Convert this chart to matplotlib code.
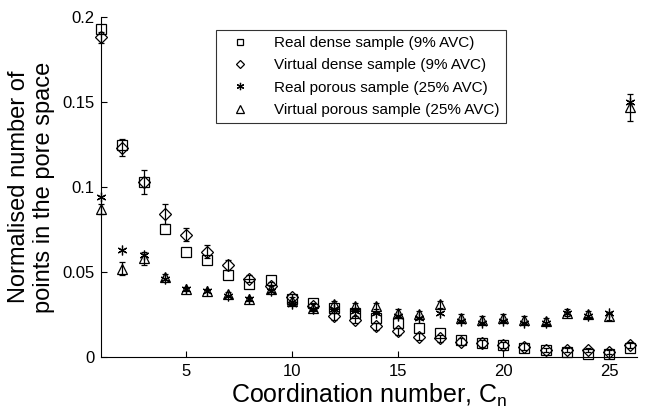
import numpy as np
import matplotlib
matplotlib.use("Agg")
import matplotlib.pyplot as plt

plt.rcParams['font.family'] = ['Liberation Sans', 'DejaVu Sans']

cn = np.arange(1, 27)

real_dense = [0.193, 0.125, 0.103, 0.075, 0.062, 0.057, 0.048, 0.043, 0.045, 0.034,
              0.032, 0.029, 0.026, 0.023, 0.020, 0.017, 0.014, 0.010, 0.008, 0.007,
              0.005, 0.004, 0.003, 0.002, 0.002, 0.005]
virt_dense = [0.188, 0.123, 0.103, 0.084, 0.072, 0.062, 0.054, 0.046, 0.042, 0.035,
              0.030, 0.024, 0.022, 0.018, 0.015, 0.012, 0.011, 0.009, 0.008, 0.007,
              0.006, 0.004, 0.004, 0.004, 0.003, 0.007]
virt_dense_err = [0.003, 0.005, 0.007, 0.006, 0.004, 0.004, 0.003, 0.002, 0.002, 0.002,
                  0.002, 0.002, 0.002, 0.002, 0.002, 0.002, 0.002, 0.002, 0.002, 0.002,
                  0.002, 0.001, 0.001, 0.001, 0.001, 0.002]
real_porous = [0.094, 0.063, 0.060, 0.046, 0.040, 0.039, 0.036, 0.034, 0.039, 0.031,
               0.028, 0.028, 0.027, 0.026, 0.024, 0.023, 0.026, 0.021, 0.020, 0.021,
               0.020, 0.020, 0.026, 0.024, 0.026, 0.150]
virt_porous = [0.087, 0.052, 0.058, 0.047, 0.040, 0.039, 0.037, 0.034, 0.040, 0.033,
               0.029, 0.031, 0.030, 0.030, 0.026, 0.025, 0.031, 0.023, 0.022, 0.023,
               0.022, 0.021, 0.026, 0.025, 0.024, 0.147]
virt_porous_err = [0.003, 0.004, 0.004, 0.002, 0.001, 0.001, 0.001, 0.001, 0.002, 0.002,
                   0.002, 0.002, 0.002, 0.002, 0.002, 0.002, 0.002, 0.002, 0.002, 0.002,
                   0.002, 0.002, 0.002, 0.002, 0.002, 0.008]

labels = ['Real dense sample (9% AVC)', 'Virtual dense sample (9% AVC)',
          'Real porous sample (25% AVC)', 'Virtual porous sample (25% AVC)']

fig = plt.figure(figsize=(6.45, 4.16), dpi=100)
ax = fig.add_axes([0.157, 0.142, 0.83, 0.817])

asterisk = (6, 2, 0)
kw = dict(color='k', mfc='none', ls='none', mew=0.9, clip_on=False)
l1, = ax.plot(cn, real_dense, marker='s', ms=6.5, **kw)
eb2 = ax.errorbar(cn, virt_dense, yerr=virt_dense_err, marker='D', ms=6,
                  capsize=2.5, elinewidth=0.9, **kw)
l3, = ax.plot(cn, real_porous, marker=asterisk, ms=7, **kw)
eb4 = ax.errorbar(cn, virt_porous, yerr=virt_porous_err, marker='^', ms=7,
                  capsize=2.5, elinewidth=0.9, **kw)

ax.set_xlim(1, 26.3)
ax.set_ylim(0, 0.2)
ax.set_xticks([5, 10, 15, 20, 25])
ax.set_yticks([0, 0.05, 0.1, 0.15, 0.2])
ax.set_yticklabels(['0', '0.05', '0.1', '0.15', '0.2'])
ax.tick_params(direction='in', labelsize=12, length=4, width=0.8, pad=5)
for s in ['top', 'right']:
    ax.spines[s].set_visible(False)

ax.set_xlabel('Coordination number, C$_\\mathregular{n}$', fontsize=18,
              labelpad=2)
ax.set_ylabel('Normalised number of\npoints in the pore space', fontsize=17,
              labelpad=5)

leg = ax.legend([l1, eb2[0], l3, eb4[0]], labels, loc='upper left',
                bbox_to_anchor=(0.2, 0.985), fontsize=11, frameon=True,
                fancybox=False, edgecolor='k', handletextpad=1.0,
                handlelength=2.4, borderpad=0.4, labelspacing=0.55,
                markerscale=0.75)
leg.get_frame().set_linewidth(0.8)

fig.savefig('out.png', dpi=100)
